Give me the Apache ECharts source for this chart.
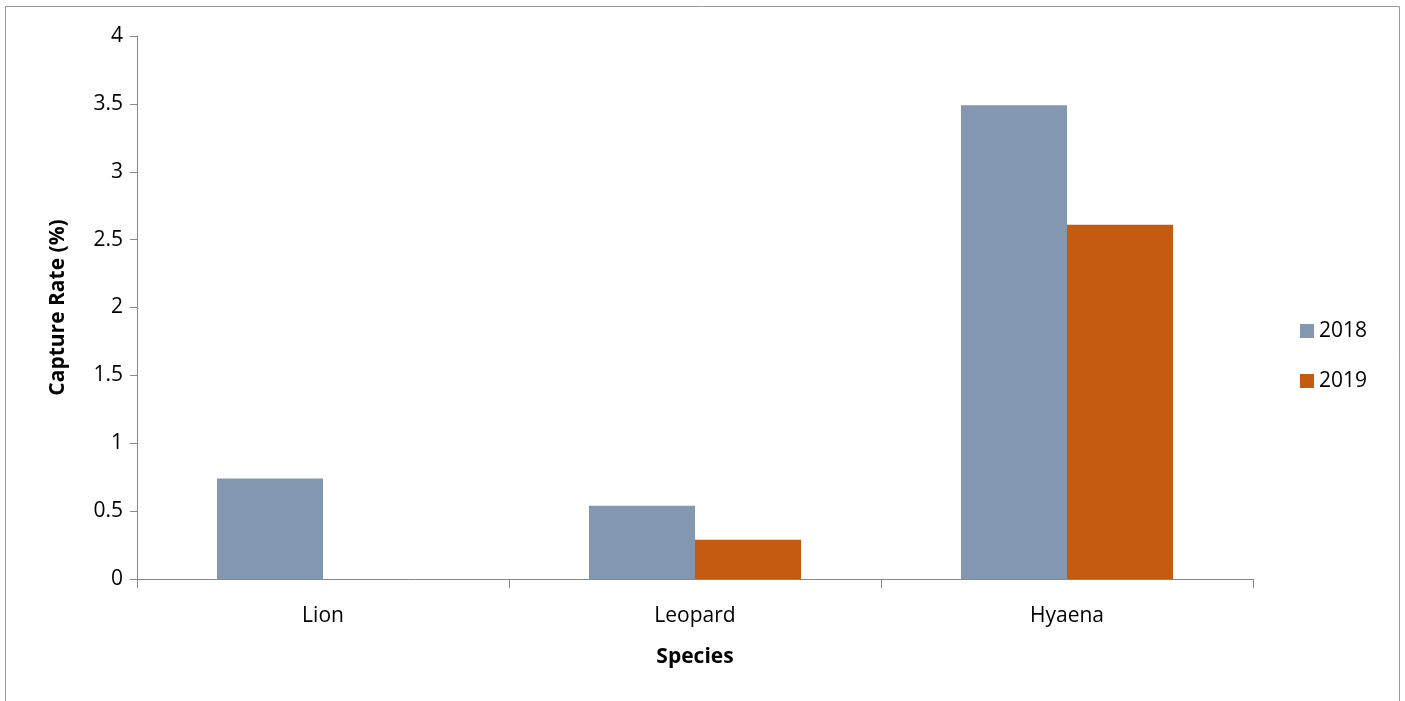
<!DOCTYPE html>
<html><head><meta charset="utf-8">
<script src="https://cdn.jsdelivr.net/npm/echarts@6/dist/echarts.min.js"></script>
<style>html,body{margin:0;padding:0;background:#fff}#c{width:1405px;height:701px}</style>
</head><body><div id="c"></div>
<script>
const categories = ['Lion', 'Leopard', 'Hyaena'];
const series2018 = [0.74, 0.54, 3.49];
const series2019 = [null, 0.29, 2.61];
const seriesNames = ['2018', '2019'];
const colors = ['#8497B0', '#C55A11'];
const yTicks = [0, 0.5, 1, 1.5, 2, 2.5, 3, 3.5, 4];

const chart = echarts.init(document.getElementById('c'), null, {renderer: 'canvas'});
const font = '"Open Sans", "Liberation Sans", sans-serif';
chart.setOption({
  animation: false,
  textStyle: {fontFamily: font},
  graphic: [{type: 'rect', shape: {x: 5.5, y: 6.5, width: 1394, height: 700}, style: {fill: 'none', stroke: '#999', lineWidth: 1}}],
  grid: {left: 137, right: 152, top: 36, bottom: 122},
  legend: {
    orient: 'vertical', left: 1295, top: 314, itemWidth: 14, itemHeight: 14, itemGap: 26,
    icon: 'rect', data: seriesNames,
    textStyle: {fontSize: 21, color: '#000', fontFamily: font, lineHeight: 24}
  },
  xAxis: {
    type: 'category', data: categories,
    name: 'Species', nameLocation: 'middle', nameGap: 68,
    nameTextStyle: {fontSize: 21, fontWeight: 'bold', color: '#000', fontFamily: font},
    axisLine: {lineStyle: {color: '#888', width: 1}},
    axisTick: {show: true, length: 9, lineStyle: {color: '#888'}},
    axisLabel: {fontSize: 21, color: '#000', margin: 27, fontFamily: font}
  },
  yAxis: {
    type: 'value', min: 0, max: 4, interval: 0.5,
    name: 'Capture Rate (%)', nameLocation: 'middle', nameGap: 68,
    nameTextStyle: {fontSize: 21, fontWeight: 'bold', color: '#000', fontFamily: font},
    axisLine: {show: true, lineStyle: {color: '#888', width: 1}},
    axisTick: {show: true, length: 7, lineStyle: {color: '#888'}},
    splitLine: {show: false},
    axisLabel: {fontSize: 21, color: '#000', margin: 14, fontFamily: font,
      formatter: v => yTicks.includes(v) ? String(v) : ''}
  },
  series: [
    {name: seriesNames[0], type: 'bar', data: series2018, barGap: '0%', barCategoryGap: '43%', itemStyle: {color: colors[0]}},
    {name: seriesNames[1], type: 'bar', data: series2019, barGap: '0%', barCategoryGap: '43%', itemStyle: {color: colors[1]}}
  ]
});
</script></body></html>
